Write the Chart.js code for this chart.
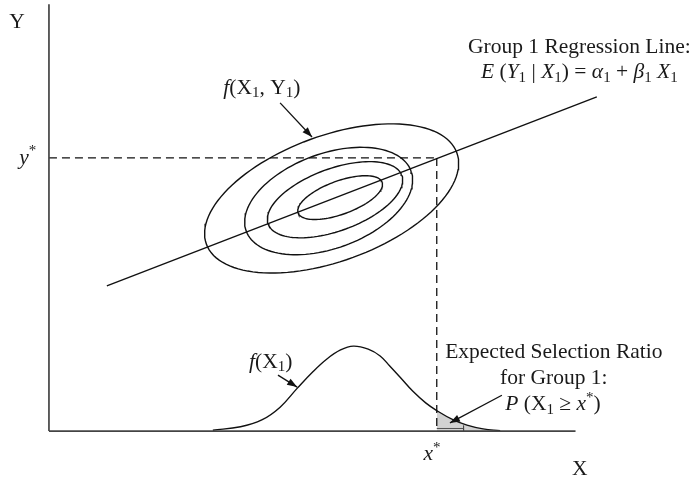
<!DOCTYPE html>
<html>
<head>
<meta charset="utf-8">
<script src="https://cdn.jsdelivr.net/npm/chart.js@4/dist/chart.umd.min.js"></script>
<style>
  body { margin: 0; background: #fff; }
  canvas { display: block; }
</style>
</head>
<body>
<canvas id="selectionChart" width="696" height="478"></canvas>
<script>
// Axis extents (data units)
const axisEndX = 123.7;
const axisEndY = 100;

// Cut-off scores
const xStar = 91.1;
const yStar = 64.0;

// Group 1 regression line end points
const regressionX = [13.6, 128.7];
const regressionY = [34.0, 78.3];

// Contours of f(X1, Y1), outer to inner
const ellipseCx = [66.4, 65.7, 67.2, 68.4];
const ellipseCy = [54.5, 53.9, 54.2, 54.7];
const ellipseA = [31.3, 20.6, 16.7, 10.5];
const ellipseB = [14.7, 11.1, 7.3, 3.9];
const ellipseTiltDeg = 20;

// Marginal density f(X1)
const densityX = [38.5, 45, 50, 54.3, 58.3, 62, 65.3, 68.5, 71.5, 75, 77.8, 80, 82.5, 85.5, 88.5, 91.1, 95, 98.2, 102, 106];
const densityY = [0.2, 1.0, 2.6, 5.6, 10.0, 13.9, 16.9, 19.0, 19.9, 19.2, 17.6, 15.3, 12.6, 9.3, 6.6, 4.8, 2.6, 1.4, 0.5, 0.1];

// Arrows: [start, head]
const arrowJointX = [54.3, 61.8];
const arrowJointY = [76.9, 68.9];
const arrowMarginalX = [53.8, 58.3];
const arrowMarginalY = [13.1, 10.3];
const arrowRatioX = [106.4, 94.2];
const arrowRatioY = [8.4, 1.9];

function xy(xs, ys) {
    return xs.map((x, i) => ({ x: x, y: ys[i] }));
}

function ellipsePoints(i) {
    const pts = [];
    const t = ellipseTiltDeg * Math.PI / 180;
    for (let k = 0; k <= 120; k++) {
        const a = k / 120 * Math.PI * 2;
        const u = ellipseA[i] * Math.cos(a);
        const v = ellipseB[i] * Math.sin(a);
        pts.push({
            x: ellipseCx[i] + u * Math.cos(t) - v * Math.sin(t),
            y: ellipseCy[i] + u * Math.sin(t) + v * Math.cos(t)
        });
    }
    return pts;
}

const ink = '#111';
const lineStyle = { showLine: true, pointRadius: 0, borderColor: ink, borderWidth: 1.4, fill: false };

const datasets = [];

// axes
datasets.push(Object.assign({}, lineStyle, { data: xy([0, 0], [0, axisEndY]), borderColor: '#444', borderWidth: 1.7 }));
datasets.push(Object.assign({}, lineStyle, { data: xy([0, axisEndX], [0, 0]), borderColor: '#444', borderWidth: 1.7 }));

// cut-off guides
datasets.push(Object.assign({}, lineStyle, { data: xy([0, xStar], [yStar, yStar]), borderDash: [8, 5], borderWidth: 1.3 }));
datasets.push(Object.assign({}, lineStyle, { data: xy([xStar, xStar], [yStar, 0]), borderDash: [8, 5], borderWidth: 1.3 }));

// regression line
datasets.push(Object.assign({}, lineStyle, { data: xy(regressionX, regressionY) }));

// contours
for (let i = 0; i < ellipseCx.length; i++) {
    datasets.push(Object.assign({}, lineStyle, { data: ellipsePoints(i) }));
}

// density curve
datasets.push(Object.assign({}, lineStyle, {
    data: xy(densityX, densityY),
    tension: 0.4
}));

// arrows
[[arrowJointX, arrowJointY], [arrowMarginalX, arrowMarginalY], [arrowRatioX, arrowRatioY]].forEach(a => {
    datasets.push(Object.assign({}, lineStyle, { data: xy(a[0], a[1]), borderWidth: 1.3, arrow: true }));
});

// small marks inside the shaded tail
datasets.push(Object.assign({}, lineStyle, {
    data: [{ x: xStar, y: 0.6 }, { x: 97.4, y: 0.6 }, { x: 97.4, y: 1.3 }, { x: 97.4, y: 0 }],
    borderWidth: 0.9, borderColor: '#444'
}));

// shaded upper tail, drawn underneath everything
const tail = xy(densityX, densityY).filter(p => p.x >= xStar);
datasets.push({
    data: tail, showLine: true, pointRadius: 0, borderWidth: 0,
    tension: 0.4,
    fill: 'origin', backgroundColor: '#d2d2d2', order: 10
});

// text labels: [parts, x, y, align]; style flags i=italic, b=subscript, p=superscript
const labels = [
    [[['Y', '']], -7.5, 95.8, 'center'],
    [[['y', 'i'], ['*', 'p']], -3.0, 64.0, 'right'],
    [[['X', '']], 124.7, -8.9, 'center'],
    [[['x', 'i'], ['*', 'p']], 90.0, -5.4, 'center'],
    [[['f', 'i'], ['(X', ''], ['1', 'b'], [', Y', ''], ['1', 'b'], [')', '']], 50.0, 80.4, 'center'],
    [[['f', 'i'], ['(X', ''], ['1', 'b'], [')', '']], 52.1, 16.2, 'center'],
    [[['Group 1 Regression Line:', '']], 124.6, 89.9, 'center'],
    [[['E', 'i'], [' (', ''], ['Y', 'i'], ['1', 'b'], [' | ', ''], ['X', 'i'], ['1', 'b'], [') = ', ''],
      ['α', 'i'], ['1', 'b'], [' + ', ''], ['β', 'i'], ['1', 'b'], [' ', ''], ['X', 'i'], ['1', 'b']], 124.6, 84.0, 'center'],
    [[['Expected Selection Ratio', '']], 118.6, 18.5, 'center'],
    [[['for Group 1:', '']], 118.6, 12.4, 'center'],
    [[['P', 'i'], [' (X', ''], ['1', 'b'], [' ≥ ', ''], ['x', 'i'], ['*', 'p'], [')', '']], 118.4, 6.3, 'center']
];

const fontSize = 21.5;
const family = '"Liberation Serif", "DejaVu Serif", serif';

function partFont(style) {
    const small = style.includes('b') || style.includes('p');
    const size = small ? Math.round(fontSize * 0.68) : fontSize;
    return (style.includes('i') ? 'italic ' : '') + size + 'px ' + family;
}

function drawRich(ctx, parts, x, y, align) {
    let total = 0;
    parts.forEach(p => { ctx.font = partFont(p[1]); total += ctx.measureText(p[0]).width; });
    let cx = align === 'center' ? x - total / 2 : align === 'right' ? x - total : x;
    parts.forEach(p => {
        ctx.font = partFont(p[1]);
        let dy = 0;
        if (p[1].includes('b')) dy = fontSize * 0.26;
        if (p[1].includes('p')) dy = -fontSize * 0.3;
        ctx.fillText(p[0], cx, y + dy);
        cx += ctx.measureText(p[0]).width;
    });
}

const annotationPlugin = {
    id: 'annotations',
    afterDatasetsDraw(chart) {
        const ctx = chart.ctx;
        const xs = chart.scales.x, ys = chart.scales.y;
        ctx.save();

        // arrow heads
        chart.data.datasets.forEach((ds, i) => {
            if (!ds.arrow) return;
            const pts = chart.getDatasetMeta(i).data;
            const a = pts[pts.length - 2], b = pts[pts.length - 1];
            const ang = Math.atan2(b.y - a.y, b.x - a.x);
            const len = 10, half = 3.6;
            ctx.fillStyle = ink;
            ctx.beginPath();
            ctx.moveTo(b.x, b.y);
            ctx.lineTo(b.x - len * Math.cos(ang) + half * Math.sin(ang), b.y - len * Math.sin(ang) - half * Math.cos(ang));
            ctx.lineTo(b.x - len * Math.cos(ang) - half * Math.sin(ang), b.y - len * Math.sin(ang) + half * Math.cos(ang));
            ctx.closePath();
            ctx.fill();
        });

        // labels
        ctx.fillStyle = '#1a1a1a';
        ctx.textBaseline = 'middle';
        ctx.textAlign = 'left';
        labels.forEach(l => {
            drawRich(ctx, l[0], xs.getPixelForValue(l[1]), ys.getPixelForValue(l[2]), l[3]);
        });
        ctx.restore();
    }
};

new Chart(document.getElementById('selectionChart'), {
    type: 'scatter',
    data: { datasets: datasets },
    options: {
        responsive: false,
        animation: false,
        events: [],
        layout: { padding: 0 },
        plugins: { legend: { display: false }, tooltip: { enabled: false } },
        scales: {
            x: { type: 'linear', min: -11.5, max: 152, display: false },
            y: { type: 'linear', min: -11, max: 101, display: false }
        }
    },
    plugins: [annotationPlugin]
});
</script>
</body>
</html>
